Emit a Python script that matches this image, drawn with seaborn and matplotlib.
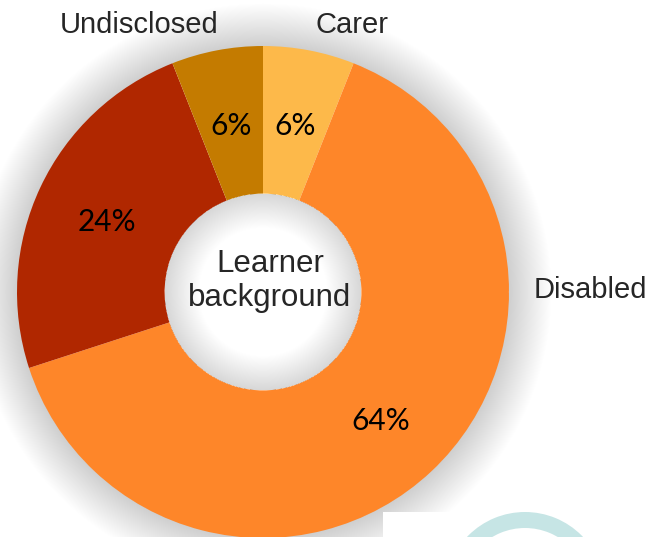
import matplotlib
matplotlib.use("Agg")
import matplotlib.pyplot as plt
from matplotlib.patches import Wedge, Rectangle
import seaborn as sns

# ---- data ----
categories = ["Carer", "Disabled", "Other", "Undisclosed"]
shares = [6, 64, 24, 6]
outer_labels = ["Carer", "Disabled", "", "Undisclosed"]
colors = ["#FDB94A", "#FE8629", "#B02700", "#C47B00"]
center_title = "Learner\nbackground"

sns.set_theme(style="white")
sns.set_palette(colors)
plt.rcParams["font.family"] = ["Liberation Sans", "DejaVu Sans"]

W, H = 663, 537
CX, CY, R = 263, 292, 246  # pixel geometry of the donut


def px(x, y):
    return ((x - CX) / R, (CY - y) / R)


fig = plt.figure(figsize=(W / 100, H / 100), dpi=100)
ax = fig.add_axes([0, 0, 1, 1])
ax.set_facecolor("white")

# soft outer shadow
n = 48
for i in range(1, n + 1):
    r = 1.0 + i * 0.0036
    ax.add_patch(Wedge((0, 0), r, 0, 360, width=r - 1.0 + 0.002,
                       facecolor="#7a7a7a", alpha=0.0052, lw=0, zorder=0))

wedges, texts, autotexts = ax.pie(
    shares, colors=colors, startangle=90, counterclock=False,
    radius=1.0, wedgeprops=dict(width=0.6, linewidth=0),
    autopct=lambda p: f"{p:.0f}%", pctdistance=0.7,
    textprops=dict(fontsize=21.5, color="black", family=["Lato", "DejaVu Sans"]),
)
for w in wedges:
    w.set_zorder(2)
for t in autotexts:
    t.set_zorder(5)
    x, y = t.get_position()
    t.set_position((x, y - 3 / R))

# inner shadow of the hole
n2 = 40
for i in range(1, n2 + 1):
    w = i * 0.0035
    ax.add_patch(Wedge((0, 0), 0.4, 0, 360, width=w,
                       facecolor="#7a7a7a", alpha=0.0048, lw=0, zorder=3))

ax.text(*px(270, 281), center_title, ha="center", va="center",
        fontsize=22.5, color="#262626", linespacing=1.15, zorder=6)

label_pos = {"Undisclosed": (139, 25), "Carer": (352, 25), "Disabled": (590, 290)}
for lab in outer_labels:
    if lab:
        ax.text(*px(*label_pos[lab]), lab, ha="center", va="center",
                fontsize=21, color="#262626",
                family=["Liberation Sans Narrow", "Liberation Sans", "DejaVu Sans"],
                zorder=6)

# overlapping page elements at bottom right
ax.add_patch(Rectangle(px(383, 537), (W - 383) / R, 25 / R,
                       facecolor="white", lw=0, zorder=7))
ax.add_patch(Wedge(px(525, 592), 80 / R, 0, 360, width=16 / R,
                   facecolor="#C6E5E5", lw=0, zorder=8))

ax.set_xlim(-CX / R, (W - CX) / R)
ax.set_ylim(-(H - CY) / R, CY / R)
ax.set_aspect("auto")
ax.axis("off")

fig.savefig("out.png", dpi=100, facecolor="white")
